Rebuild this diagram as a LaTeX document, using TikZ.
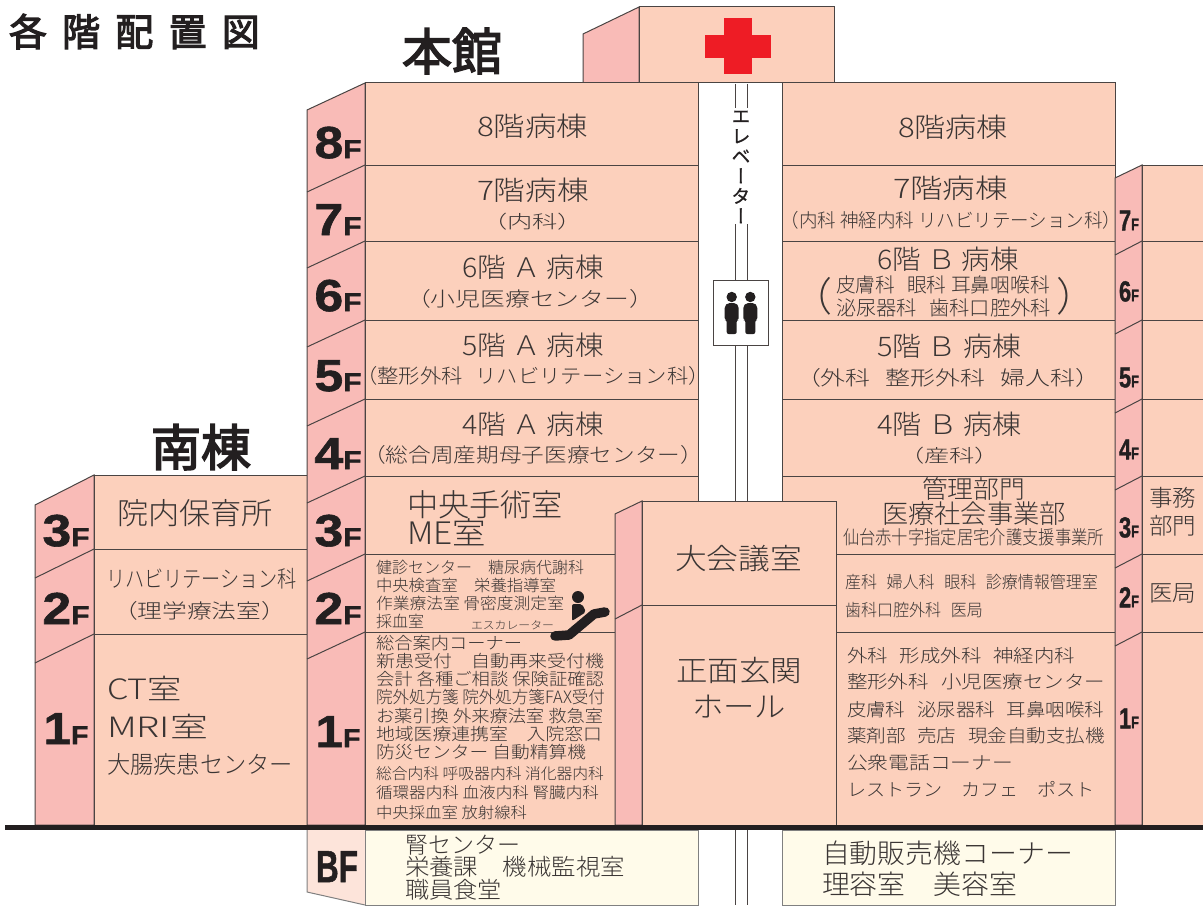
\documentclass[tikz,border=0pt]{standalone}
\usepackage{fontspec}
\usepackage{graphicx}
\setmainfont{Noto Sans CJK JP Light}
\newfontfamily\vjp[RawFeature=+vert,FakeBold=0.8]{Noto Sans CJK JP}
\newfontfamily\jpmed[FakeBold=3]{Noto Sans CJK JP}
\newfontfamily\hv[FakeBold=1.2]{Liberation Sans Bold}
\newcommand\gp{\hspace{.6em}}
\definecolor{frontc}{HTML}{FCD0BC}
\definecolor{sidec}{HTML}{F9BBB7}
\definecolor{inkc}{HTML}{231F20}
\definecolor{linec}{HTML}{4A4443}
\definecolor{txtc}{HTML}{3A3534}
\definecolor{bfc}{HTML}{FFFBEA}
\definecolor{bfside}{HTML}{FDE4DA}
\definecolor{crossc}{HTML}{EE1C25}
\tikzset{
 front/.style={fill=frontc,draw=linec,line width=1pt},
 side/.style={fill=sidec,draw=linec,line width=1pt},
 rule/.style={draw=linec,line width=1pt},
 lbl/.style={inner sep=0pt,outer sep=0pt,text=txtc},
 head/.style={inner sep=0pt,outer sep=0pt,text=inkc},
 icon/.style={fill=inkc,draw=none}
}
\newcommand\TX[6]{\pgfmathsetmacro\tw{#3-#2}\pgfmathsetmacro\ty{#4+0.38*#5}%
 \node[lbl,anchor=base west] (#1) at (#2,\ty) {\fontsize{#5pt}{#5pt}\selectfont\resizebox{\tw pt}{\height}{#6}};}
\newcommand\FL[7]{\pgfmathsetmacro\ty{#3+0.358*#5}%
 \node[head,anchor=base] (#1) at (#2,\ty) {\resizebox{#4pt}{\height}{\hv\fontsize{#5pt}{#5pt}\selectfont #6\fontsize{#7pt}{#7pt}\selectfont F}};}
\begin{document}
\begin{tikzpicture}[x=1pt,y=-1pt]
\useasboundingbox (0,0) rectangle (1203,907);
% top roof block
\draw[side] (583,83) -- (583,34) -- (639,7) -- (639,83) -- cycle;
\draw[front] (639,7) rectangle (834,83);
\fill[crossc] (724,18) rectangle (752,74);
\fill[crossc] (705,35) rectangle (771,58);
% south wing
\draw[side] (35,825) -- (35,505) -- (94,475) -- (94,825) -- cycle;
\draw[rule] (94,549) -- (35,578) (94,634) -- (35,663);
\draw[front] (94,475) rectangle (307,825);
\draw[rule] (94,549) -- (307,549) (94,634) -- (307,634);
% main west
\draw[side] (307,825) -- (307,110) -- (365,83) -- (365,825) -- cycle;
\foreach \yy in {165,241,320,399,476,554,632} {\draw[rule] (365,\yy) -- ++(-58,27);}
\draw[front] (365,83) rectangle (698,825);
\foreach \yy in {165,241,320,399,476} {\draw[rule] (365,\yy) -- (698,\yy);}
\draw[rule] (365,554) -- (615,554) (365,632) -- (615,632);
% main east
\draw[front] (782,83) rectangle (1115,825);
\foreach \yy in {165,241,320,399,476,554,632} {\draw[rule] (782,\yy) -- (1115,\yy);}
% east wing
\draw[side] (1115,825) -- (1115,178) -- (1142,165) -- (1142,825) -- cycle;
\foreach \yy in {241,320,399,476,554,632} {\draw[rule] (1142,\yy) -- ++(-27,14);}
\fill[frontc] (1142,165) rectangle (1203,825);
\draw[rule] (1203,165) -- (1142,165) -- (1142,825);
\foreach \yy in {241,320,399,476,554,632} {\draw[rule] (1142,\yy) -- (1203,\yy);}
% elevator shaft
\fill[white] (698.5,83.5) rectangle (781.5,501);
\draw[rule] (698,83) -- (698,501) (782,83) -- (782,501);
\draw[rule] (735.6,84) -- (735.6,108) (747,84) -- (747,108);
\draw[rule] (735.6,224) -- (735.6,280) (747,224) -- (747,280);
\draw[rule] (735.6,345) -- (735.6,501) (747,345) -- (747,501);
\draw[draw=linec,fill=white,line width=1pt] (713,280) rectangle (768,345);
\foreach \px in {731.7,750.3} {
 \fill[icon] (\px,297) circle (5.2);
 \fill[icon,rounded corners=2pt] (\px-7,320) -- (\px-7,306) -- (\px-4,303) -- (\px+4,303) -- (\px+7,306) -- (\px+7,320) -- (\px+5,320) -- (\px+5,334) -- (\px-5,334) -- (\px-5,320) -- cycle;
}
% central hall
\draw[side] (615,825) -- (615,514) -- (642,501) -- (642,825) -- cycle;
\draw[rule] (642,605) -- (615,619);
\draw[front] (642,501) rectangle (836,825);
\draw[rule] (642,605) -- (836,605);
% escalator
\draw[inkc,line width=9.5pt,line cap=round,line join=round] (555,636) -- (569,635) -- (594,614) -- (605,612);
\fill[icon] (578,597) circle (6);
\fill[icon,rounded corners=2pt] (572,604) -- (582,604) -- (586,612) -- (572,621) -- cycle;
% basement
\fill[bfside] (307,830) -- (365,830) -- (365,905) -- (307,892) -- cycle;
\draw[draw=gray,line width=1pt] (307,830) -- (307,892) -- (365,905);
\draw[draw=gray,line width=1pt,fill=bfc] (365,830) rectangle (698,905);
\draw[draw=gray,line width=1pt,fill=bfc] (782,830) rectangle (1115,905);
\draw[rule] (735.6,830) -- (735.6,905) (747,830) -- (747,905);
% ground
\draw[inkc,line width=5pt] (5,827.5) -- (1203,827.5);
% headings
\node[head,anchor=base west,font=\jpmed\fontsize{38pt}{38pt}\selectfont] (title) at (9,46) {各\hspace{.4em}階\hspace{.4em}配\hspace{.4em}置\hspace{.4em}図};
\node[head,anchor=base,font=\jpmed\fontsize{50pt}{50pt}\selectfont] (honkan) at (452,70) {本館};
\node[head,anchor=base,font=\jpmed\fontsize{50pt}{50pt}\selectfont] (nanto) at (201,466) {南棟};
% elevator label
\node[head,align=center,font=\vjp\fontsize{19pt}{20pt}\selectfont] (elev) at (741,167) {エ\\レ\\ベ\\ー\\タ\\ー};
% floor labels
\FL{fa8}{338}{142}{47}{45}{8}{26}
\FL{fa7}{338}{219}{47}{45}{7}{26}
\FL{fa6}{338}{295}{47}{45}{6}{26}
\FL{fa5}{338}{375}{47}{45}{5}{26}
\FL{fa4}{338}{453}{47}{45}{4}{26}
\FL{fa3}{338}{530}{47}{45}{3}{26}
\FL{fa2}{338}{608}{47}{45}{2}{26}
\FL{fa1}{338}{731}{45}{45}{1}{26}
\FL{fab}{337}{866}{42}{45}{B}{45}
\FL{fs3}{66}{530}{47}{45}{3}{26}
\FL{fs2}{66}{608}{47}{45}{2}{26}
\FL{fs1}{66}{728}{45}{45}{1}{26}
\FL{fe7}{1129}{220}{20}{29}{7}{17}
\FL{fe6}{1129}{291}{20}{29}{6}{17}
\FL{fe5}{1129}{377}{20}{29}{5}{17}
\FL{fe4}{1129}{449}{20}{29}{4}{17}
\FL{fe3}{1129}{527}{20}{29}{3}{17}
\FL{fe2}{1129}{597}{20}{29}{2}{17}
\FL{fe1}{1129}{718}{20}{29}{1}{17}
% west block
\TX{a8}{477}{588}{126}{27}{8階病棟}
\TX{a7}{477}{589}{190}{27}{7階病棟}
\TX{a7s}{482}{583}{222}{18}{（内科）}
\TX{a6}{462}{604}{267}{27}{6階 Ａ 病棟}
\TX{a6s}{406}{654}{299}{20}{（小児医療センター）}
\TX{a5}{462}{604}{345}{27}{5階 Ａ 病棟}
\TX{a5s}{367}{699}{376}{20}{\hspace{-.5em}（整形外科\gp リハビリテーション科）\hspace{-.5em}}
\TX{a4}{462}{604}{424}{27}{4階 Ａ 病棟}
\TX{a4s}{363}{703}{455}{20}{（総合周産期母子医療センター）}
\TX{a3a}{407}{563}{505}{31}{中央手術室}
\TX{a3b}{407}{486}{533}{31}{ME室}
\TX{a2a}{376}{584}{567}{16}{健診センター　糖尿病代謝科}
\TX{a2b}{376}{556}{585}{16}{中央検査室　栄養指導室}
\TX{a2c}{376}{564}{603}{16}{作業療法室 骨密度測定室}
\TX{a2d}{376}{424}{621}{16}{採血室}
\TX{esc}{471}{554}{625}{11}{エスカレーター}
\TX{a1a}{376}{522}{643}{17}{総合案内コーナー}
\TX{a1b}{376}{604}{661}{17}{新患受付　自動再来受付機}
\TX{a1c}{376}{604}{679}{17}{会計 各種ご相談 保険証確認}
\TX{a1d}{376}{605}{697}{17}{院外処方箋 院外処方箋FAX受付}
\TX{a1e}{376}{603}{716}{17}{お薬引換 外来療法室 救急室}
\TX{a1f}{376}{602}{734}{17}{地域医療連携室　入院窓口}
\TX{a1g}{376}{586}{752}{17}{防災センター 自動精算機}
\TX{a1h}{376}{604}{774}{15.5}{総合内科 呼吸器内科 消化器内科}
\TX{a1i}{376}{599}{793}{15.5}{循環器内科 血液内科 腎臓内科}
\TX{a1j}{376}{527}{813}{15.5}{中央採血室 放射線科}
% east block
\TX{b8}{898}{1008}{127}{27}{8階病棟}
\TX{b7}{893}{1008}{188}{27}{7階病棟}
\TX{b7s}{790}{1112}{220}{19}{\hspace{-.5em}（内科 神経内科 リハビリテーション科）\hspace{-.5em}}
\TX{b6}{877}{1019}{259}{27}{6階 Ｂ 病棟}
\TX{b6a}{836}{1050}{285}{20}{皮膚科\gp 眼科 耳鼻咽喉科}
\TX{b6b}{836}{1051}{308}{20}{泌尿器科\gp 歯科口腔外科}
\node[lbl,font=\fontsize{40pt}{40pt}\selectfont] (parl) at (812,296) {（};
\node[lbl,font=\fontsize{40pt}{40pt}\selectfont] (parr) at (1076,296) {）};
\TX{b5}{877}{1021}{346}{27}{5階 Ｂ 病棟}
\TX{b5s}{796}{1100}{378}{20}{（外科\gp 整形外科\gp 婦人科）}
\TX{b4}{877}{1022}{424}{27}{4階 Ｂ 病棟}
\TX{b4s}{899}{1000}{456}{18}{（産科）}
\TX{b3a}{922}{1025}{489}{25}{管理部門}
\TX{b3b}{882}{1066}{514}{26}{医療社会事業部}
\TX{b3c}{843}{1104}{537}{19}{仙台赤十字指定居宅介護支援事業所}
\TX{b2a}{845}{1098}{582}{17}{産科\gp 婦人科\gp 眼科\gp 診療情報管理室}
\TX{b2b}{845}{983}{610}{17}{歯科口腔外科\gp 医局}
\TX{b1a}{847}{1075}{656}{18}{外科\gp 形成外科\gp 神経内科}
\TX{b1b}{847}{1105}{682}{18}{整形外科\gp 小児医療センター}
\TX{b1c}{847}{1104}{710}{18}{皮膚科\gp 泌尿器科\gp 耳鼻咽喉科}
\TX{b1d}{847}{1105}{736}{18}{薬剤部\gp 売店\gp 現金自動支払機}
\TX{b1e}{847}{1013}{763}{18}{公衆電話コーナー}
\TX{b1f}{847}{1095}{790}{18}{レストラン　カフェ　ポスト}
% east wing
\TX{c3a}{1149}{1196}{498}{23}{事務}
\TX{c3b}{1149}{1196}{526}{23}{部門}
\TX{c2}{1149}{1196}{593}{23}{医局}
% hall
\TX{h1}{675}{802}{558}{29}{大会議室}
\TX{h2}{676}{802}{670}{29}{正面玄関}
\TX{h3}{692}{786}{706}{29}{ホール}
% south wing
\TX{s3}{117}{273}{513}{30}{院内保育所}
\TX{s2a}{106}{297}{579}{23}{リハビリテーション科}
\TX{s2b}{113}{286}{611}{20}{（理学療法室）}
\TX{s1a}{107}{182}{689}{28}{CT室}
\TX{s1b}{107}{208}{727}{28}{MRI室}
\TX{s1c}{107}{293}{764}{24}{大腸疾患センター}
% basement
\TX{d1}{405}{520}{845}{23}{腎センター}
\TX{d2}{405}{625}{867}{23}{栄養課　機械監視室}
\TX{d3}{405}{502}{890}{23}{職員食堂}
\TX{e1}{822}{1073}{853}{27}{自動販売機コーナー}
\TX{e2}{822}{1017}{884}{27}{理容室　美容室}
\end{tikzpicture}
\end{document}
